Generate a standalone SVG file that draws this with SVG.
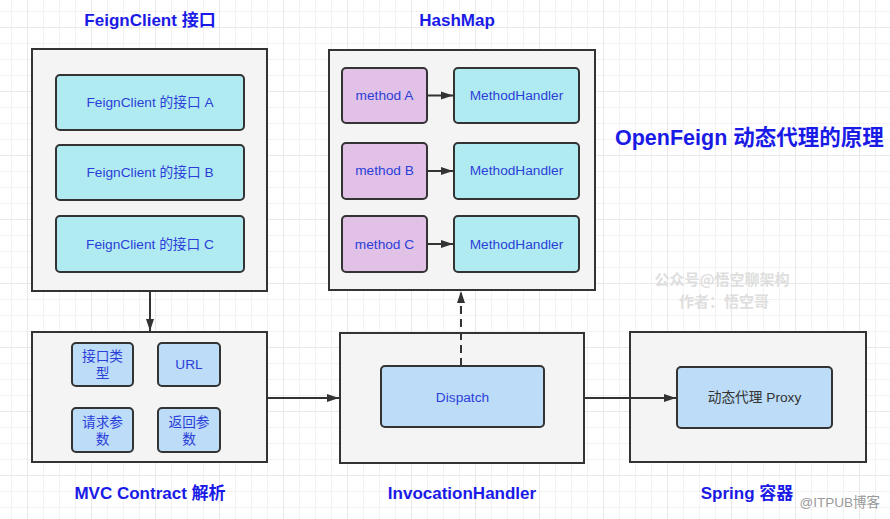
<svg xmlns="http://www.w3.org/2000/svg" width="890" height="519" viewBox="0 0 890 519">
<defs>
<pattern id="minor" width="16" height="16" patternUnits="userSpaceOnUse" x="11" y="11">
<path d="M0 0.5H16M0.5 0V16" fill="none" stroke="#f2f2f2" stroke-width="1"/>
</pattern>
<pattern id="major" width="64" height="64" patternUnits="userSpaceOnUse" x="27" y="27">
<path d="M0 0.5H64M0.5 0V64" fill="none" stroke="#e8e8e8" stroke-width="1"/>
</pattern>
<marker id="arr" viewBox="0 0 12 10" refX="12" refY="5" markerWidth="12" markerHeight="10" markerUnits="userSpaceOnUse" orient="auto">
<path d="M0 1L12 5L0 9Z" fill="#333"/>
</marker>
<style>
.outer{fill:#f4f4f4;stroke:#333;stroke-width:2}
.cyan{fill:#b1ebf2;stroke:#333;stroke-width:2}
.pink{fill:#e2c1e7;stroke:#333;stroke-width:2}
.blue{fill:#bcdcf8;stroke:#333;stroke-width:2}
.t{font-family:"Liberation Sans","Noto Sans CJK SC",sans-serif;font-size:13.7px;fill:#2b3fd8;text-anchor:middle}
.h{font-family:"Liberation Sans","Noto Sans CJK SC",sans-serif;font-size:17px;font-weight:bold;fill:#1a1ae6;text-anchor:middle}
.wm{font-family:"Noto Sans CJK SC",sans-serif;font-size:15px;font-weight:bold;fill:#dedede;text-anchor:middle}
.line{fill:none;stroke:#333;stroke-width:2}
</style>
</defs>
<rect width="890" height="519" fill="#ffffff"/>
<rect width="890" height="519" fill="url(#minor)"/>
<rect width="890" height="519" fill="url(#major)"/>

<text class="h" x="615" y="145" style="font-size:21.5px;text-anchor:start">OpenFeign 动态代理的原理</text>
<text class="wm" x="722" y="285">公众号@悟空聊架构</text>
<text class="wm" x="724" y="307">作者：悟空哥</text>
<text x="880" y="507" style="font-family:'Liberation Sans','Noto Sans CJK SC',sans-serif;font-size:13.5px;fill:#9a9a9a;text-anchor:end">@ITPUB博客</text>

<g id="feignclient">
<text class="h" x="150" y="26">FeignClient 接口</text>
<rect class="outer" x="32" y="49" width="235" height="242"/>
<rect class="cyan" x="56" y="75" width="188" height="55" rx="4"/>
<text class="t" x="150" y="107">FeignClient 的接口 A</text>
<rect class="cyan" x="56" y="145" width="188" height="55" rx="4"/>
<text class="t" x="150" y="177">FeignClient 的接口 B</text>
<rect class="cyan" x="56" y="216" width="188" height="56" rx="4"/>
<text class="t" x="150" y="249">FeignClient 的接口 C</text>
</g>

<g id="hashmap">
<text class="h" x="457" y="26">HashMap</text>
<rect class="outer" x="329" y="50" width="266" height="240"/>
<rect class="pink" x="342" y="68" width="85" height="55" rx="4"/>
<text class="t" x="384.5" y="100">method A</text>
<rect class="cyan" x="454" y="68" width="125" height="55" rx="4"/>
<text class="t" x="516.5" y="100">MethodHandler</text>
<rect class="pink" x="342" y="143" width="85" height="56" rx="4"/>
<text class="t" x="384.5" y="175">method B</text>
<rect class="cyan" x="454" y="143" width="125" height="56" rx="4"/>
<text class="t" x="516.5" y="175">MethodHandler</text>
<rect class="pink" x="342" y="216" width="85" height="56" rx="4"/>
<text class="t" x="384.5" y="249">method C</text>
<rect class="cyan" x="454" y="216" width="125" height="56" rx="4"/>
<text class="t" x="516.5" y="249">MethodHandler</text>
</g>

<g id="mvc">
<rect class="outer" x="32" y="332" width="235" height="130"/>
<rect class="blue" x="72" y="343" width="61" height="43" rx="4"/>
<text class="t" x="102.5" y="361">接口类</text>
<text class="t" x="102.5" y="378">型</text>
<rect class="blue" x="158" y="343" width="62" height="43" rx="4"/>
<text class="t" x="189" y="369">URL</text>
<rect class="blue" x="72" y="408" width="61" height="44" rx="4"/>
<text class="t" x="102.5" y="427">请求参</text>
<text class="t" x="102.5" y="444">数</text>
<rect class="blue" x="158" y="408" width="62" height="44" rx="4"/>
<text class="t" x="189" y="427">返回参</text>
<text class="t" x="189" y="444">数</text>
<text class="h" x="150" y="499">MVC Contract 解析</text>
</g>

<g id="invocation">
<rect class="outer" x="340" y="333" width="244" height="130"/>
<rect class="blue" x="381" y="366" width="163" height="61" rx="4"/>
<text class="t" x="462.5" y="402">Dispatch</text>
<text class="h" x="462" y="499">InvocationHandler</text>
</g>

<g id="spring">
<rect class="outer" x="630" y="332" width="236" height="130"/>
<rect class="blue" x="677" y="367" width="155" height="61" rx="4"/>
<text class="t" x="754.5" y="402" style="fill:#333">动态代理 Proxy</text>
<text class="h" x="747" y="499">Spring 容器</text>
</g>

<g id="connectors">
<path class="line" d="M427 95.5H453" marker-end="url(#arr)"/>
<path class="line" d="M427 171H453" marker-end="url(#arr)"/>
<path class="line" d="M427 244H453" marker-end="url(#arr)"/>
<path class="line" d="M150 291V331" marker-end="url(#arr)"/>
<path class="line" d="M267 398H339" marker-end="url(#arr)"/>
<path class="line" d="M584 398H676" marker-end="url(#arr)"/>
<path class="line" d="M461 366V291" stroke-dasharray="8 5" marker-end="url(#arr)"/>
</g>
</svg>
